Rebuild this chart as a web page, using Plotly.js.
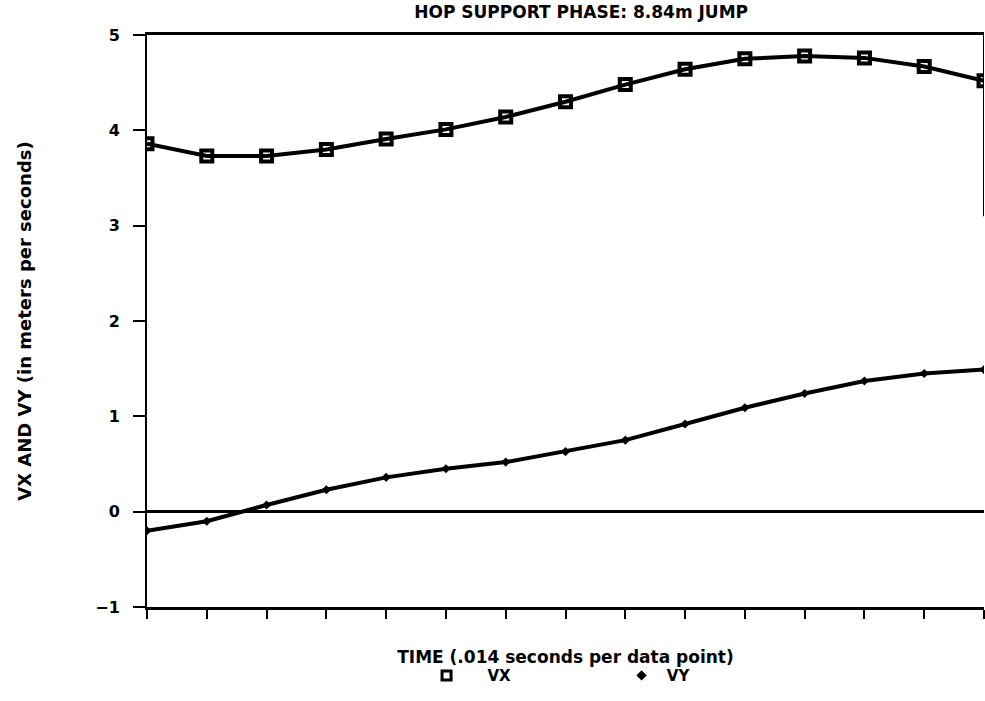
<!DOCTYPE html>
<html>
<head>
<meta charset="utf-8">
<script src="https://cdn.plot.ly/plotly-3.0.1.min.js"></script>
<style>html,body{margin:0;padding:0;background:#fff;}#chart{width:985px;height:701px;}</style>
</head>
<body>
<div id="chart"></div>
<script>
// data point index (each point = .014 s)
var timeIndex = [0, 1, 2, 3, 4, 5, 6, 7, 8, 9, 10, 11, 12, 13, 14];
var vx = [3.86, 3.73, 3.73, 3.80, 3.91, 4.01, 4.14, 4.30, 4.48, 4.64, 4.75, 4.78, 4.76, 4.67, 4.52];
var vy = [-0.20, -0.10, 0.07, 0.23, 0.36, 0.45, 0.52, 0.63, 0.75, 0.92, 1.09, 1.24, 1.37, 1.45, 1.49];
var yTickVals = [-1, 0, 1, 2, 3, 4, 5];
var yTickText = ['\u22121', '0', '1', '2', '3', '4', '5'];

var fontFam = 'DejaVu Sans, Arial, sans-serif';
var ink = '#000000';

var traces = [
  {x: timeIndex, y: vx, mode: 'lines+markers', name: 'VX', showlegend: false,
   line: {color: ink, width: 4},
   marker: {symbol: 'square-open', size: 11, color: ink, line: {color: ink, width: 4}}},
  {x: timeIndex, y: vy, mode: 'lines+markers', name: 'VY', showlegend: false,
   line: {color: ink, width: 4},
   marker: {symbol: 'diamond', size: 7, color: ink}},
  {x: [null], y: [null], mode: 'markers', name: '\u00a0\u00a0\u00a0\u00a0VX', showlegend: true,
   marker: {symbol: 'square-open', size: 9, color: ink, line: {color: ink, width: 3}}},
  {x: [null], y: [null], mode: 'markers', name: '\u00a0VY', showlegend: true,
   marker: {symbol: 'diamond', size: 8, color: ink}}
];

var layout = {
  width: 985, height: 701,
  paper_bgcolor: '#ffffff', plot_bgcolor: '#ffffff',
  margin: {l: 147, r: 1, t: 35, b: 94},
  font: {family: fontFam, color: ink, size: 15, weight: 'bold'},
  title: {text: 'HOP SUPPORT PHASE: 8.84m JUMP', x: 0.59, xanchor: 'center', y: 0.983, yanchor: 'middle',
          font: {family: fontFam, size: 17, weight: 'bold', color: ink}},
  xaxis: {
    range: [0, 14], dtick: 1, tick0: 0,
    showgrid: false, zeroline: false,
    showline: true, linecolor: ink, linewidth: 3, mirror: true,
    ticks: 'outside', ticklen: 9, tickwidth: 2, tickcolor: ink,
    showticklabels: false, automargin: true,
    title: {text: 'TIME (.014 seconds per data point)', standoff: 34,
            font: {family: fontFam, size: 17, weight: 'bold', color: ink}}
  },
  yaxis: {
    range: [-1, 5], tickvals: yTickVals, ticktext: yTickText,
    showgrid: false, automargin: true,
    zeroline: true, zerolinecolor: ink, zerolinewidth: 3,
    showline: true, linecolor: ink, linewidth: 2,
    ticks: 'outside', ticklen: 12, tickwidth: 2, tickcolor: ink,
    ticklabelstandoff: 10,
    tickfont: {family: fontFam, size: 16, weight: 'bold', color: ink},
    title: {text: 'VX AND VY (in meters per seconds)', standoff: 59,
            font: {family: fontFam, size: 18, weight: 'bold', color: ink}}
  },
  shapes: [
    {type: 'line', xref: 'x', yref: 'y', x0: 14, x1: 14, y0: 3.1, y1: 5,
     line: {color: ink, width: 2}}
  ],
  legend: {orientation: 'h', x: 0.334, xanchor: 'left', y: -0.12, yanchor: 'middle',
           bgcolor: 'rgba(0,0,0,0)', entrywidth: 150, entrywidthmode: 'pixels',
           font: {family: fontFam, size: 15, weight: 'bold', color: ink}},
  showlegend: true
};

Plotly.newPlot('chart', traces, layout, {displayModeBar: false, staticPlot: true});
</script>
</body>
</html>
